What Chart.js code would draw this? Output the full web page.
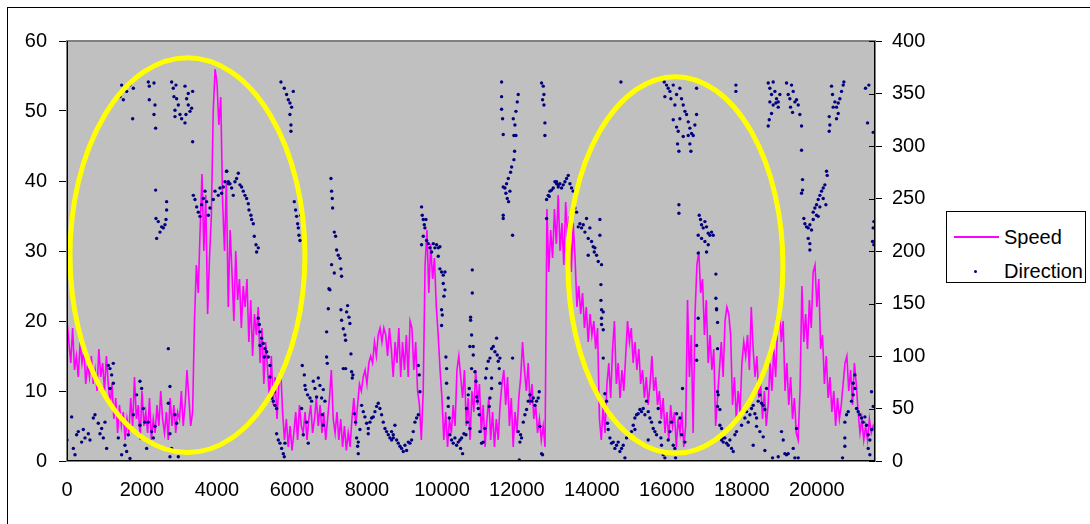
<!DOCTYPE html>
<html>
<head>
<meta charset="utf-8">
<script src="https://cdn.jsdelivr.net/npm/chart.js@4/dist/chart.umd.min.js"></script>
<style>
  html, body { margin: 0; padding: 0; background: #fff; }
  #wrap { position: relative; width: 1090px; height: 524px; }
  #legend {
    position: absolute; left: 946px; top: 211px; width: 140px; height: 72px;
    border: 1px solid #000; background: #fff; box-sizing: border-box;
    font-family: "Liberation Sans", Arial, sans-serif; font-size: 20px; color: #000;
  }
  #legend .row { position: absolute; left: 0; height: 24px; line-height: 24px; }
  #legend .txt { position: absolute; left: 57px; white-space: nowrap; }
  #legend .swLine { position: absolute; left: 7px; top: 11px; width: 45px; height: 2px; background: #ff00ff; }
  #legend .swDot { position: absolute; left: 27px; top: 11px; width: 3px; height: 3px; border-radius: 50%; background: #000080; }
</style>
</head>
<body>
<div id="wrap">
  <canvas id="grafico" width="1090" height="524"></canvas>
  <div id="legend">
    <div class="row" style="top:13px"><span class="swLine"></span><span class="txt">Speed</span></div>
    <div class="row" style="top:47px"><span class="swDot"></span><span class="txt">Direction</span></div>
  </div>
</div>
<script>
// ---- dados ----
// marcas do eixo x
const xTicks = [0, 2000, 4000, 6000, 8000, 10000, 12000, 14000, 16000, 18000, 20000];
const xMax = 21550;

// velocidade (eixo esquerdo), uma leitura a cada 50 amostras
const speedStep = 50;
const speedValues = [
  // 0 - 1100
  20, 17, 14, 19, 13, 15, 12, 17, 14, 16, 11, 14, 12, 15, 11, 13, 10, 16, 12, 14, 10, 15, 11,
  // 1150 - 2150
  8, 11, 6, 9, 4, 8, 5, 7, 3, 6, 4,
  9, 5, 12, 6, 8, 3, 10, 5, 7, 4,
  // 2200 - 3350
  9, 3, 6, 4, 8, 5, 10, 6, 4, 7, 3, 9, 5, 8, 4, 7, 6, 10, 5, 8, 13, 9, 5, 7,
  // 3400 - 4350
  20, 28, 24, 33, 41,
  30, 38, 21, 29, 35, 50,
  56, 54, 48, 52,
  37, 30, 40, 22, 33,
  // 4400 - 5700
  27, 20, 30, 23, 26, 19, 25, 22,
  26, 17, 23, 15, 21, 18, 22,
  14, 19, 11, 17, 13,
  9, 15, 8, 12, 6, 11, 13,
  // 5750 - 7750
  7, 3, 6, 2, 5, 1.5, 4, 7, 3,
  8, 5, 4, 7, 3, 6, 8, 4, 6,
  9, 5, 8, 4, 7, 3, 6, 9, 13, 6, 4,
  7, 3, 6, 2, 5, 1.5, 4, 2, 6, 9, 5, 8,
  // 7800 - 9950
  11, 10, 12, 13, 11, 14, 15, 14, 17, 15, 18,
  19, 17, 19, 18, 15, 19, 16, 12, 17,
  14, 19, 12, 17, 13, 18, 12, 20, 19, 13, 17, 10, 8, 3, 10,
  28, 33, 24, 31, 26, 29, 22, 18, 13,
  // 10000 - 12750
  9, 3, 7, 2, 6, 4, 8, 5, 13, 15,
  12, 9, 13, 5, 9, 3, 10, 7, 13, 8, 11,
  4, 8, 2, 6, 9, 3, 7, 2, 6, 3, 8,
  11, 13, 8, 12, 5, 9, 2, 7, 4, 9,
  12, 17, 13, 10, 14, 8, 11, 6, 8, 4, 6, 3, 5, 2,
  // 12800 - 15650
  36, 27, 33, 29, 36, 31, 38, 30, 34, 28, 37, 32, 35, 27, 34, 29,
  22, 25, 21, 24, 19, 22, 17, 21, 18, 20, 16, 19,
  6, 3, 8, 4, 11, 14, 9, 16, 20,
  11, 14, 9, 13, 10, 15, 20, 17, 19,
  14, 17, 13, 16, 11, 13, 9, 12, 8, 11, 15, 10,
  // 15700 - 18050
  12, 8, 10, 6, 9, 4, 7, 3, 8, 5, 7, 2, 6, 4, 7, 2, 5,
  23, 12, 18, 4, 21, 28, 30, 24,
  26, 18, 23, 14, 18, 13, 16, 5, 9, 13, 17, 12, 20,
  22, 21, 18, 8, 12, 6, 10, 7, 14, 17,
  // 18100 - 21550
  15, 18, 13, 22, 16, 12, 15, 9, 11, 6, 10, 5, 8,
  14, 10, 16, 12, 19, 22, 17, 20, 10, 14, 8, 12, 6, 9, 4, 3, 10,
  25, 17, 21, 16, 23, 19, 27, 28, 22, 26,
  16, 18, 11, 15, 9, 12, 7, 10, 5, 9, 6, 8,
  11, 14, 15, 10, 13, 8, 14, 11, 7, 4, 6, 3, 5, 3, 6, 4, 5, 4
];

// direção (eixo direito): [amostra, graus]
const directionPoints = [
  [0,20],[124,42],[169,12],[213,6],[257,25],[302,28],[391,18],[435,30],[480,22],[569,26],[613,20],
  [702,41],[746,44],[835,36],[880,26],[924,31],[969,22],[1013,37],
  [1102,91],[1146,88],[1191,82],[1235,93],[1235,74],[1146,69],[1057,12],
  [1369,22],[1457,6],[1546,15],[1591,9],[1680,2.5],[1635,25],
  [1769,44],[1857,63],[1946,76],[1991,69],[2035,50],[2080,37],[1946,34],
  [2169,37],[2258,28],[2346,33],[2124,12],[2302,22],
  [2702,107],[2746,71],[2702,55],[2746,26],[2791,12],[2880,44],[2924,36],[2969,4],[2746,4],
  [1457,358],[1502,344],[1591,352],[1680,358],[1769,355],[1413,347],[1751,326],
  [2169,361],[2195,357],[2320,360],[2195,344],[2346,339],[2320,330],[2364,317],
  [2791,361],[2835,355],[2906,358],[2853,347],[2924,345],[2880,334],[2880,328],[2969,339],[3013,330],
  [3058,326],[3147,357],[3191,345],[3235,350],[3235,339],[3280,333],[3324,336],[3173,330],[3147,322],[3351,352],
  [3351,304],
  [2364,258],[2657,247],[2657,239],
  [2373,231],[2435,228],[2524,223],[2480,218],[2569,222],[2613,225],[2391,212],[2640,230],
  [3369,253],[3413,249],[3458,242],[3502,237],[3547,233],[3591,244],[3636,250],[3680,257],[3724,247],
  [3769,234],[3813,241],[3902,249],[3947,257],[4035,253],[4080,260],[4124,255],[4169,261],[4213,266],
  [4258,276],[4302,264],
  [4257,276],[4302,266],[4346,264],[4391,260],[4435,253],[4480,266],[4524,269],[4569,274],[4613,263],
  [4657,261],[4702,257],[4746,253],[4791,250],[4835,245],[4853,239],[4906,234],[4924,230],[4969,226],
  [4995,214],[5040,206],[5057,199],[5102,203],
  [5706,361],[5795,355],[5857,349],[5902,344],[5946,341],[5991,337],[6035,352],[5946,330],[5973,320],[5973,314],
  [6062,247],[6097,239],[6124,233],[6151,226],[6169,222],[6186,215],[6213,210],[6240,234],
  [5102,136],[5129,130],[5146,123],[5191,117],[5235,112],[5280,107],[5324,104],[5369,99],[5413,91],[5146,110],[5262,99],
  [5413,80],[5457,60],[5502,57],[5546,53],[5591,50],[5529,66],
  [5591,26],[5635,20],[5680,17],[5724,12],[5769,7],[5795,4],[5813,17],
  [6275,91],[6329,82],[6346,72],[6364,68],[6417,63],[6480,60],[6524,57],[6569,76],[6613,69],[6657,61],
  [6702,79],[6746,72],[6791,60],[6835,68],[6880,57],[6257,50],[6302,25],[6435,17],[6391,37],[6809,44],[6835,34],
  [7040,269],[7057,257],[7075,250],[7084,241],[7129,218],[7164,214],[7191,201],[7235,196],[7280,193],
  [7057,187],[7129,179],[7306,183],[7324,176],[6986,164],[7013,163],[6969,145],[6924,123],[6924,99],[6942,93],
  [7306,144],[7324,134],[7369,126],[7413,120],[7431,115],[7458,142],[7484,148],[7520,137],[7546,131],
  [7369,88],[7431,88],[7573,102],[7591,85],[7609,79],[7626,82],
  [7662,45],[7697,37],[7724,22],[7751,14],[7769,7],[7813,30],[7769,18],
  [7858,53],[7902,47],[7946,42],[7991,36],[8035,31],[8080,37],[8124,41],[8169,42],[8213,47],[8258,52],
  [8302,55],[8346,50],[8391,44],[8435,37],[8480,31],[8524,28],[8569,25],[8613,22],[8658,20],[8702,25],[8035,26],
  [8657,28],[8702,22],[8746,34],[8791,20],[8835,17],[8880,14],[8924,12],[8969,9],[9013,15],[9057,10],
  [9102,18],[9146,17],[9191,20],[9235,28],[9280,37],[9324,41],[9369,44],[9413,66],[9395,82],[9369,91],
  [9457,242],[9475,234],[9502,230],[9529,225],[9546,222],[9573,230],[9502,214],[9457,206],[9591,210],
  [9635,207],[9680,203],[9724,199],[9769,207],[9813,203],[9857,206],[9902,203],[9946,204],[9902,195],
  [9946,183],[9991,180],[10035,177],[10080,180],[10035,169],[10080,163],[10053,157],[9991,144],[10009,139],[9991,129],
  [10106,99],[10124,88],[10124,74],[10169,60],[10169,52],[10195,41],
  [10213,25],[10257,20],[10302,17],[10346,22],[10391,15],[10435,18],[10480,20],[10524,22],[10551,7],
  [10586,26],[10640,25],[10497,12],
  [10809,182],[10809,160],[10764,137],[10764,134],[10791,120],[10746,109],[10835,109],[10835,101],[10791,88],
  [10880,85],[10906,76],[10729,69],[10702,63],[10657,50],[10675,37],[10746,31],[10924,61],[10942,57],
  [10969,50],[10995,44],[11013,28],[11057,17],[11102,18],[11146,31],[11191,88],[11235,95],[11280,98],
  [11324,107],[11369,109],[11413,104],[11457,117],[11475,101],[11502,95],[11546,98],[11529,88],[11546,74],
  [11324,79],[11324,69],[11280,60],[11262,52],[11164,79],
  [11591,361],[11591,347],[11591,335],[11617,326],[11635,311],[11902,326],[11946,320],[11973,333],
  [12009,342],[12035,349],[11920,310],[11973,310],[11938,295],[11920,287],[11858,280],[11831,275],
  [11769,269],[11724,264],[11680,260],[11635,261],[11706,255],[11742,250],[11778,247],[11813,257],
  [11635,234],[11635,231],[11884,215],
  [12657,360],[12702,357],[12720,349],[12684,344],[12720,339],[12746,322],[12746,310],
  [11884,98],[12035,28],[12080,18],[12124,22],[12097,25],[12169,37],[12213,44],[12258,49],[12302,57],
  [12346,63],[12391,57],[12435,60],[12480,53],[12524,57],[12569,60],[12595,66],[12613,33],[12657,7],[12684,6],[12062,1],
  [12791,231],[12791,249],[12835,253],[12880,257],[12924,258],[12969,260],[13013,266],[13058,264],[13102,263],[12862,252],
  [13057,266],[13102,261],[13146,264],[13191,260],[13235,263],[13280,266],[13324,269],[13369,272],
  [13413,264],[13457,260],[13502,257],[13546,241],[13591,237],
  [14773,361],
  [13635,223],[13680,226],[13724,222],[13769,225],[13813,218],[13857,231],[13902,212],[13946,222],
  [13991,209],[14035,204],[14080,203],[14124,196],[14169,190],[14213,215],[14213,230],[13902,196],[14062,199],[14257,187],
  [14240,168],[14240,153],[14257,144],[14302,142],[14257,136],[14257,130],[14302,125],[14302,98],
  [14346,64],[14391,57],[14417,36],[14435,30],[14480,22],[14524,17],[14569,18],[14613,12],[14657,15],
  [14702,18],[14746,9],[14791,12],[14835,15],[14880,3],[14924,22],
  [15057,28],[15102,34],[15146,41],[15191,44],[15235,45],[15280,49],[15324,47],[15369,50],[15413,44],
  [15457,57],[15502,47],[15546,41],[15591,37],[15146,30],[15502,20],
  [15635,31],[15680,28],[15724,25],[15769,50],[15813,37],[15840,22],[15857,15],[15902,6],[15946,3],
  [16035,20],[16080,28],[16124,37],[16169,15],[16213,12],[16231,3],[16258,45],[16346,41],[16391,25],[16417,69],[16480,18],
  [15929,361],[15991,358],[16035,355],[16080,352],[15946,347],[16106,345],[16169,358],[16213,339],
  [16258,349],[16346,355],[16391,345],[16435,339],[16480,333],[16524,330],[16569,323],[16613,317],
  [16658,312],[16702,310],[16746,320],[16791,330],[16791,355],[16169,325],[16258,318],[16302,314],
  [16346,326],[16435,309],[16284,302],[16320,295],[16613,302],[16640,295],[16569,310],
  [16320,244],[16320,236],
  [16862,234],[16897,230],[16924,225],[16969,222],[17013,228],[17057,223],[17102,217],[17146,215],
  [17191,218],[17235,215],[16835,215],[16924,212],[17013,209],[17102,206],[16835,198],[17057,199],
  [17306,178],[17306,155],[17324,145],[17324,144],[17351,132],[17351,107],[16791,110],[16791,96],[16835,136],
  [17351,66],[17369,63],[17351,52],[17413,49],[17413,34],[17458,31],[17502,22],
  [17457,20],[17502,18],[17546,22],[17591,17],[17635,15],[17680,20],[17724,12],[17769,9],[17813,25],[17857,28],
  [17991,34],[18080,41],[18124,47],[18169,37],[18213,44],[18257,50],[18302,53],[18346,45],[18391,41],
  [18435,57],[18480,63],[18524,55],[18569,53],[18613,49],[18302,15],[18480,28],[18569,23],[18613,10],[18391,33],[18657,69],
  [18817,3],[18969,4],[19057,28],[19102,20],[19146,7],[19191,6],[19235,7],[19369,12],[19413,3],[19457,31],[19502,3],
  [17840,358],[17840,352],
  [18702,360],[18746,355],[18791,349],[18835,361],[18880,352],[18924,345],[18969,342],[19013,349],
  [18746,342],[18835,339],[18791,331],[18729,325],[18702,319],[18906,341],[18969,337],
  [19191,360],[19235,349],[19280,345],[19324,358],[19369,352],[19413,342],[19457,344],[19502,339],
  [19546,330],[19351,332],[19591,319],[19297,337],
  [19591,296],
  [19617,268],[19617,258],[19591,255],[19653,231],[19680,226],[19724,223],[19769,222],[19813,225],
  [19857,220],[19902,237],[19946,241],[19991,244],[20035,249],[20080,253],[20124,257],[20169,260],
  [20213,263],[20257,276],[20275,272],[20240,244],[20080,242],[19991,234],[20035,233],[19769,212],
  [19813,207],[19813,201],[19902,230],[20169,250],
  [20329,328],[20329,314],[20346,320],[20391,357],[20417,349],[20480,342],[20524,337],[20569,331],
  [20524,326],[20613,345],[20657,352],[20702,358],[20720,361],[20569,341],[20435,337],
  [21297,355],[21386,358],[21351,322],[21502,313],
  [21520,228],[21502,222],[21484,209],[21520,206],
  [20746,37],[20791,44],[20835,47],[20924,57],[20969,63],[21013,69],[21013,82],[21057,50],[21102,47],
  [21146,44],[21191,41],[21235,37],[21280,42],[21324,34],[21369,25],[21413,20],[21457,66],[21502,52],
  [21457,30],[20746,22],[20746,14],[20684,3],[21369,12],[21413,6],[20969,74]
];

// elipses amarelas marcadas no gráfico: [centro x, centro velocidade, raio x, raio velocidade]
const highlightEllipses = [
  [3213, 29.4, 3133, 28.2],
  [16227, 28.0, 2867, 26.9]
];

// ---- montagem ----
const fonte = { family: '"Liberation Sans", Arial, sans-serif', size: 20 };

const speedData = speedValues.map((v, i) => ({ x: i * speedStep, y: v }));
const directionData = directionPoints.map(p => ({ x: p[0], y: p[1] }));

// fundo, moldura e área cinza
const moldura = {
  id: 'moldura',
  beforeDraw(chart) {
    const { ctx, chartArea: a } = chart;
    ctx.save();
    ctx.fillStyle = '#ffffff';
    ctx.fillRect(0, 0, chart.width, chart.height);
    ctx.strokeStyle = '#000000';
    ctx.lineWidth = 1;
    ctx.strokeRect(7.5, 7.5, chart.width + 20, chart.height + 20);
    ctx.fillStyle = '#c0c0c0';
    ctx.fillRect(a.left, a.top, a.right - a.left, a.bottom - a.top);
    ctx.restore();
  },
  afterDatasetsDraw(chart) {
    const { ctx, chartArea: a, scales } = chart;
    ctx.save();
    ctx.beginPath();
    ctx.rect(a.left, a.top, a.right - a.left, a.bottom - a.top);
    ctx.clip();
    ctx.strokeStyle = '#ffff00';
    ctx.lineWidth = 5;
    highlightEllipses.forEach(e => {
      const cx = scales.x.getPixelForValue(e[0]);
      const cy = scales.y.getPixelForValue(e[1]);
      const rx = Math.abs(scales.x.getPixelForValue(e[0] + e[2]) - cx);
      const ry = Math.abs(scales.y.getPixelForValue(e[1] + e[3]) - cy);
      ctx.beginPath();
      ctx.ellipse(cx, cy, rx, ry, 0, 0, Math.PI * 2);
      ctx.stroke();
    });
    ctx.restore();
    // borda da área de plotagem e eixos
    ctx.save();
    ctx.strokeStyle = '#808080';
    ctx.lineWidth = 2;
    ctx.strokeRect(a.left, a.top, a.right - a.left, a.bottom - a.top);
    ctx.strokeStyle = '#000000';
    ctx.lineWidth = 1;
    ctx.beginPath();
    ctx.moveTo(a.left + 0.5, a.top); ctx.lineTo(a.left + 0.5, a.bottom);
    ctx.moveTo(a.right - 0.5, a.top); ctx.lineTo(a.right - 0.5, a.bottom);
    ctx.moveTo(a.left, a.bottom - 0.5); ctx.lineTo(a.right, a.bottom - 0.5);
    // tracinhos do eixo direito atravessam para dentro
    const y2 = scales.y2;
    y2.ticks.forEach(t => {
      const py = Math.round(y2.getPixelForValue(t.value)) + 0.5;
      ctx.moveTo(a.right - 6, py); ctx.lineTo(a.right, py);
    });
    ctx.stroke();
    ctx.restore();
  }
};

new Chart(document.getElementById('grafico').getContext('2d'), {
  type: 'line',
  data: {
    datasets: [
      {
        label: 'Direction',
        data: directionData,
        yAxisID: 'y2',
        showLine: false,
        pointRadius: 1.7,
        pointBorderWidth: 0,
        pointBackgroundColor: '#000080',
        order: 1
      },
      {
        label: 'Speed',
        data: speedData,
        yAxisID: 'y',
        borderColor: '#ff00ff',
        borderWidth: 1.6,
        pointRadius: 0,
        tension: 0,
        order: 2
      }
    ]
  },
  options: {
    responsive: false,
    animation: false,
    layout: { padding: { top: 41, left: 0, right: 0, bottom: 0 } },
    plugins: { legend: { display: false }, tooltip: { enabled: false } },
    scales: {
      x: {
        type: 'linear', min: 0, max: xMax,
        afterBuildTicks(s) { s.ticks = xTicks.map(v => ({ value: v })); },
        ticks: {
          autoSkip: false, maxRotation: 0, minRotation: 0, padding: 17,
          color: '#000', font: fonte, callback: v => String(v)
        },
        grid: { display: false, drawTicks: false },
        border: { display: false },
        afterFit(s) { s.height = 63; }
      },
      y: {
        position: 'left', min: 0, max: 60,
        ticks: { stepSize: 10, padding: 12, color: '#000', font: fonte },
        grid: { drawOnChartArea: false, tickLength: 8, color: '#000' },
        border: { display: false },
        afterFit(s) { s.width = 67; }
      },
      y2: {
        position: 'right', min: 0, max: 400,
        ticks: { stepSize: 50, padding: 10, color: '#000', font: fonte },
        grid: { drawOnChartArea: false, tickLength: 7, color: '#000' },
        border: { display: false },
        afterFit(s) { s.width = 215; }
      }
    }
  },
  plugins: [moldura]
});
</script>
</body>
</html>
